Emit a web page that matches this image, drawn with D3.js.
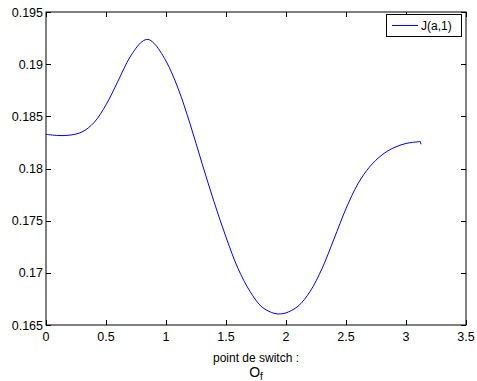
<!DOCTYPE html>
<html>
<head>
<meta charset="utf-8">
<script src="https://cdn.jsdelivr.net/npm/d3@7"></script>
<style>
  html, body { margin: 0; padding: 0; background: #fff; }
  text { font-family: "Liberation Sans", Arial, Helvetica, sans-serif; fill: #000; }
</style>
</head>
<body>
<svg id="chart" width="477" height="381"></svg>
<script>
const xValues = [0.0, 0.1, 0.2, 0.3, 0.4, 0.5, 0.6, 0.7, 0.8, 0.85, 0.9, 1.0, 1.1, 1.2, 1.3, 1.4, 1.5, 1.6, 1.7, 1.8, 1.9, 1.95, 2.0, 2.1, 2.2, 2.3, 2.4, 2.5, 2.6, 2.7, 2.8, 2.9, 3.0, 3.1, 3.12, 3.125];
const jValues = [0.18328, 0.18316, 0.18320, 0.18350, 0.18440, 0.18610, 0.18838, 0.19068, 0.19216, 0.19237, 0.19200, 0.19030, 0.18770, 0.18430, 0.18050, 0.17682, 0.17342, 0.17042, 0.16822, 0.16672, 0.16612, 0.16606, 0.16616, 0.16680, 0.16820, 0.17040, 0.17325, 0.17615, 0.17855, 0.18020, 0.18130, 0.18200, 0.18240, 0.18256, 0.18258, 0.18232];
const xTicks = [0, 0.5, 1, 1.5, 2, 2.5, 3, 3.5];
const yTicks = [0.165, 0.17, 0.175, 0.18, 0.185, 0.19, 0.195];
const legendLabel = "J(a,1)";
const xLabel = "point de switch :";

const svg = d3.select("#chart");
const L = 46, R = 466, T = 12, B = 325;
const x = d3.scaleLinear().domain([0, 3.5]).range([L, R]);
const y = d3.scaleLinear().domain([0.165, 0.195]).range([B, T]);
const tickLen = 5;

// curve
const data = xValues.map((v, i) => [v, jValues[i]]);
const line = d3.line().x(d => x(d[0])).y(d => y(d[1])).curve(d3.curveCatmullRom.alpha(0.5));
svg.append("path").datum(data.slice(0, data.length - 1))
  .attr("d", line).attr("fill", "none").attr("stroke", "#0000ff").attr("stroke-width", 1);
svg.append("path").datum(data.slice(data.length - 2))
  .attr("d", d3.line().x(d => x(d[0])).y(d => y(d[1])))
  .attr("fill", "none").attr("stroke", "#0000ff").attr("stroke-width", 1);

// axes box
svg.append("rect").attr("x", L).attr("y", T).attr("width", R - L).attr("height", B - T)
  .attr("fill", "none").attr("stroke", "#000").attr("stroke-width", 1);

// x ticks (inward, top and bottom)
const gx = svg.append("g");
xTicks.forEach(t => {
  const px = Math.round(x(t)) + 0.5;
  gx.append("line").attr("x1", px).attr("x2", px).attr("y1", B).attr("y2", B - tickLen).attr("stroke", "#000");
  gx.append("line").attr("x1", px).attr("x2", px).attr("y1", T).attr("y2", T + tickLen).attr("stroke", "#000");
  gx.append("text").attr("x", x(t)).attr("y", 341).attr("text-anchor", "middle")
    .attr("font-size", 12.5).text(d3.format("")(t));
});
// y ticks
const gy = svg.append("g");
yTicks.forEach(t => {
  const py = Math.round(y(t)) + 0.5;
  gy.append("line").attr("x1", L).attr("x2", L + tickLen).attr("y1", py).attr("y2", py).attr("stroke", "#000");
  gy.append("line").attr("x1", R).attr("x2", R - tickLen).attr("y1", py).attr("y2", py).attr("stroke", "#000");
  gy.append("text").attr("x", 43).attr("y", y(t) + 4.5).attr("text-anchor", "end")
    .attr("font-size", 12.5).text(d3.format("")(t));
});

// x label
svg.append("text").attr("x", (L + R) / 2).attr("y", 362).attr("text-anchor", "middle")
  .attr("font-size", 12).text(xLabel);
const sub = svg.append("text").attr("x", (L + R) / 2).attr("y", 377).attr("text-anchor", "middle")
  .attr("font-size", 14);
sub.append("tspan").text("O");
sub.append("tspan").attr("font-size", 10).attr("dy", 3).text("f");

// legend
const lg = svg.append("g");
lg.append("rect").attr("x", 386.5).attr("y", 14.5).attr("width", 75).attr("height", 22)
  .attr("fill", "#fff").attr("stroke", "#000").attr("stroke-width", 1);
lg.append("line").attr("x1", 392).attr("x2", 418).attr("y1", 25.5).attr("y2", 25.5)
  .attr("stroke", "#0000ff").attr("stroke-width", 1);
lg.append("text").attr("x", 421).attr("y", 30).attr("font-size", 12).text(legendLabel);
</script>
</body>
</html>
